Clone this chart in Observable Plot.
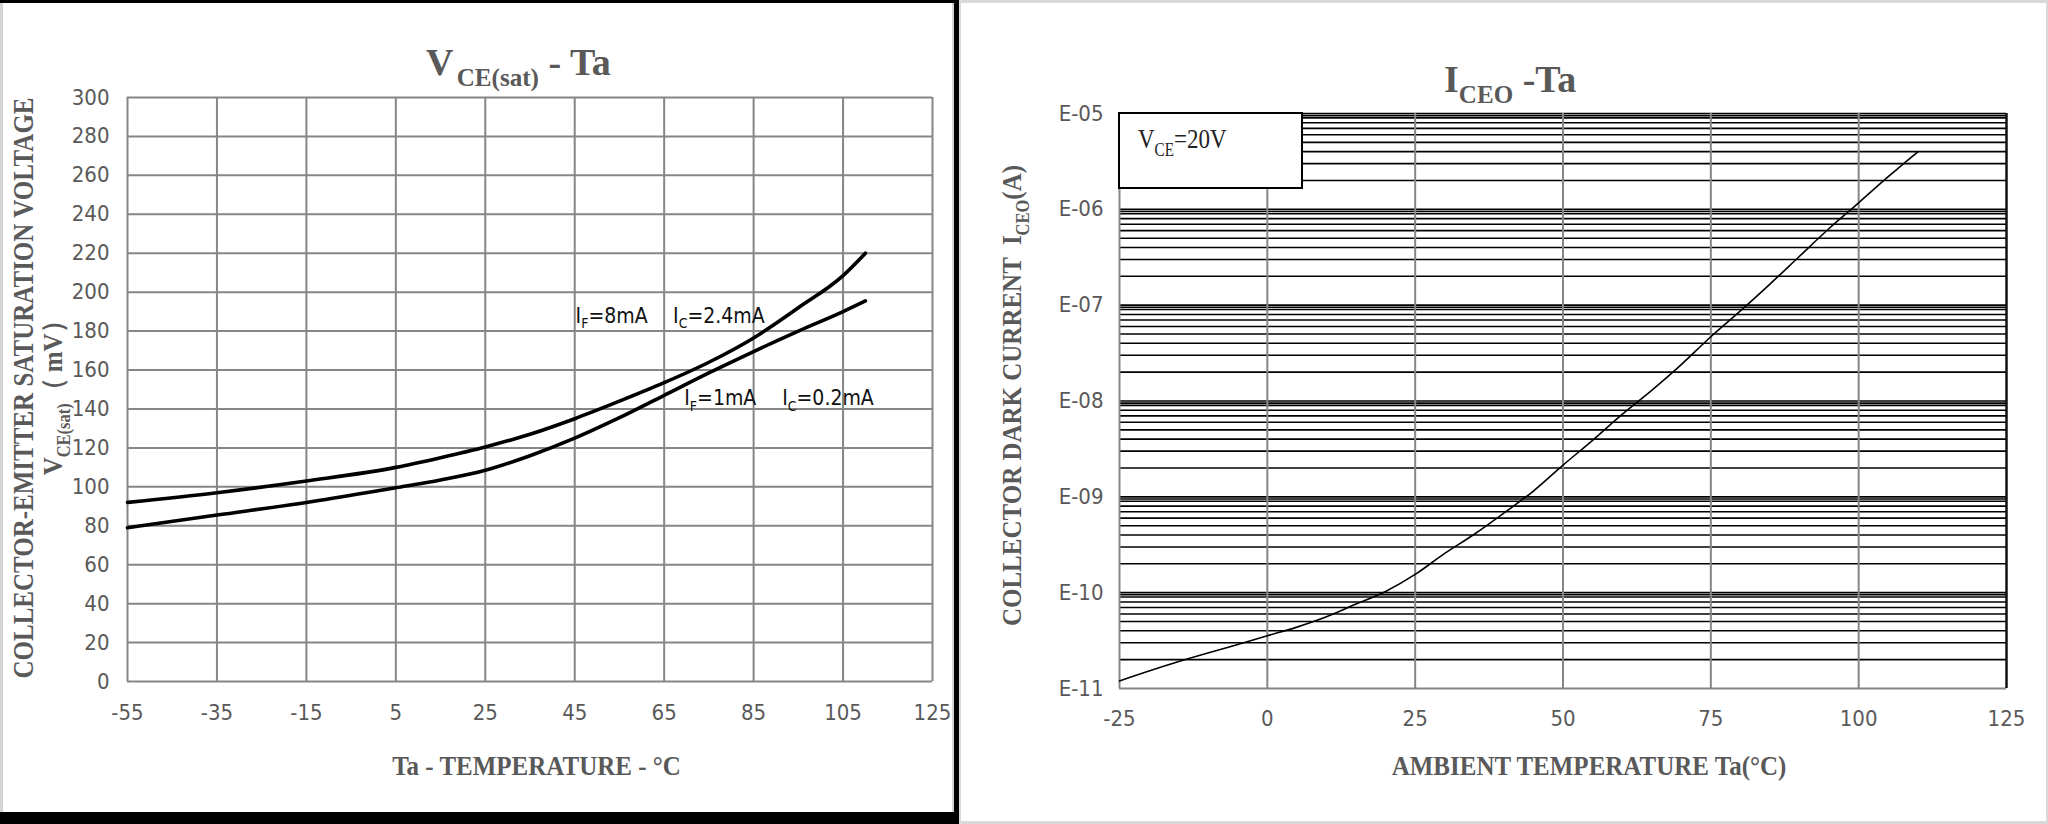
<!DOCTYPE html>
<html><head><meta charset="utf-8">
<script src="https://cdn.jsdelivr.net/npm/d3@7"></script>
<script src="https://cdn.jsdelivr.net/npm/@observablehq/plot@0.6"></script>
<style>
html,body{margin:0;padding:0;background:#fff;}
#page{position:relative;width:2048px;height:824px;overflow:hidden;background:#fff;}
#page > div, #page > svg{position:absolute;}
</style></head><body><div id="page"></div>
<script>
// ---------- data: VCE(sat) - Ta ----------
const vceTemps = [-55, -35, -15, 5, 15, 25, 35, 45, 55, 65, 75, 85, 95, 105, 110];
const vceHigh  = [92, 97, 103, 110, 115, 120.5, 127, 135, 144, 153.5, 164, 176.5, 192, 208.5, 220]; // IF=8mA IC=2.4mA
const vceLow   = [79, 85.5, 92, 99.5, 103.5, 108.5, 116, 125, 135.5, 147, 158.5, 169.5, 180, 190, 195.5]; // IF=1mA IC=0.2mA
const vceXTicks = [-55, -35, -15, 5, 25, 45, 65, 85, 105, 125];
const vceYTicks = [0, 20, 40, 60, 80, 100, 120, 140, 160, 180, 200, 220, 240, 260, 280, 300];
const curveLabelTexts = ["I_{F}=8mA", "I_{C}=2.4mA", "I_{F}=1mA", "I_{C}=0.2mA"];
const curveLabelT = [45.2, 67, 69.5, 91.4];
const curveLabelV = [184.4, 184.4, 141.8, 141.8];

// ---------- data: ICEO - Ta ----------
const iceoTemps = [-25, -15, -5, 0, 5, 10, 15, 20, 25, 30, 35, 40, 45, 50, 55, 60, 65, 70, 75, 80, 85, 90, 95, 100, 105, 110];
const iceoAmps  = [1.20e-11, 1.91e-11, 2.88e-11, 3.55e-11, 4.37e-11, 5.6e-11, 7.6e-11, 1.03e-10, 1.55e-10, 2.57e-10, 4.07e-10, 6.76e-10, 1.15e-9, 2.14e-9, 3.89e-9, 7.24e-9, 1.29e-8, 2.40e-8, 4.68e-8, 8.71e-8, 1.66e-7, 3.24e-7, 6.31e-7, 1.17e-6, 2.19e-6, 3.98e-6];
const iceoXTicks = [-25, 0, 25, 50, 75, 100, 125];
const iceoYTicks = [1e-11, 1e-10, 1e-9, 1e-8, 1e-7, 1e-6, 1e-5];
const iceoYTickLabels = ["E-11", "E-10", "E-09", "E-08", "E-07", "E-06", "E-05"];
const logMantissas = [1, 2, 3, 4, 5, 6, 7, 8, 9, 9.5];

// ---------- helpers ----------
function available(name) {
  const c = document.createElement("canvas").getContext("2d");
  const s = "mmmmmmmmmmlli1234567890WWW";
  c.font = "40px monospace"; const a = c.measureText(s).width;
  c.font = `40px "${name}", monospace`; const b = c.measureText(s).width;
  return Math.abs(a - b) > 0.5;
}
const narrowName = ["Liberation Sans Narrow", "DejaVu Sans Condensed", "Liberation Sans"].find(available) || "Liberation Sans";
const NARROW = `"${narrowName}", "Liberation Sans", Arial, sans-serif`;
const SERIF = `"Liberation Serif", "Times New Roman", serif`;
const GRAY_TEXT = "#595959";
const GRID = "#868686";
const plain = d => String(d);

function richText(sel, str, fs, subScale = 0.66, shift = 0.28) {
  sel.text(null);
  const parts = str.split(/(_\{[^}]*\})/).filter(s => s);
  let down = false;
  for (const p of parts) {
    if (p.startsWith("_{")) {
      sel.append("tspan").attr("font-size", fs * subScale).attr("dy", fs * shift).text(p.slice(2, -1));
      down = true;
    } else {
      const t = sel.append("tspan").text(p);
      if (down) { t.attr("dy", -fs * shift); down = false; }
    }
  }
}

const page = d3.select("#page");
function box(x, y, w, h, color) {
  page.append("div").style("left", x + "px").style("top", y + "px")
    .style("width", w + "px").style("height", h + "px").style("background", color);
}
// panel frames
box(0, 0, 954, 3, "#000");
box(0, 3, 3, 809, "#d4d4d4");
box(951.5, 3, 2.5, 809, "#d4d4d4");
box(954, 0, 4.5, 824, "#000");
box(0, 812, 958, 12, "#000");
box(958.5, 0, 1089.5, 3, "#d9d9d9");
box(958.5, 0, 2, 824, "#d9d9d9");
box(2045.5, 0, 2.5, 824, "#d9d9d9");
box(958.5, 821, 1089.5, 3, "#d9d9d9");

// ---------- left chart ----------
const highData = vceTemps.map((t, i) => ({T: t, V: vceHigh[i]}));
const lowData = vceTemps.map((t, i) => ({T: t, V: vceLow[i]}));
const labelData = curveLabelTexts.map((s, i) => ({T: curveLabelT[i], V: curveLabelV[i], s}));

const left = Plot.plot({
  width: 954, height: 812,
  marginLeft: 127, marginRight: 22, marginTop: 97, marginBottom: 131,
  x: {domain: [-55, 125]},
  y: {domain: [0, 300]},
  style: {background: "none", fontFamily: NARROW, fontSize: "22px", color: GRAY_TEXT, overflow: "visible"},
  marks: [
    Plot.ruleX(vceXTicks, {stroke: GRID, strokeWidth: 2}),
    Plot.ruleY(vceYTicks, {stroke: GRID, strokeWidth: 2}),
    Plot.axisX(vceXTicks, {tickSize: 0, tickPadding: 23, label: null, fontSize: 22, tickFormat: plain}),
    Plot.axisY(vceYTicks, {tickSize: 0, tickPadding: 18, label: null, fontSize: 22, tickFormat: plain}),
    Plot.line(highData, {x: "T", y: "V", stroke: "#000", strokeWidth: 3.6, curve: "monotone-x"}),
    Plot.line(lowData, {x: "T", y: "V", stroke: "#000", strokeWidth: 3.6, curve: "monotone-x"}),
    Plot.text(labelData, {x: "T", y: "V", text: "s", textAnchor: "start", lineAnchor: "bottom", fontSize: 21, fill: "#111"})
  ]
});
left.style.left = "0px"; left.style.top = "0px";
page.node().appendChild(left);

// ---------- right chart ----------
const iceoData = iceoTemps.map((t, i) => ({T: t, I: iceoAmps[i]}));
const blackLines = [];
for (let k = -11; k <= -6; k++) for (const m of logMantissas) {
  const v = m * Math.pow(10, k);
  if (!(m === 1 && k === -11)) blackLines.push(v);
}
blackLines.push(1e-5);

const right = Plot.plot({
  width: 1090, height: 824,
  marginLeft: 161, marginRight: 42, marginTop: 113, marginBottom: 136,
  x: {domain: [-25, 125]},
  y: {type: "log", domain: [1e-11, 1e-5]},
  style: {background: "none", fontFamily: NARROW, fontSize: "22px", color: GRAY_TEXT, overflow: "visible"},
  marks: [
    Plot.ruleY(blackLines, {stroke: "#000", strokeWidth: 1.6}),
    Plot.ruleY([1e-11], {stroke: GRID, strokeWidth: 2}),
    Plot.ruleX(iceoXTicks.filter(t => t < 125), {stroke: GRID, strokeWidth: 2}),
    Plot.ruleX([125], {stroke: "#111", strokeWidth: 2.5}),
    Plot.axisX(iceoXTicks, {tickSize: 0, tickPadding: 22, label: null, fontSize: 22, tickFormat: plain}),
    Plot.axisY(iceoYTicks, {tickSize: 0, tickPadding: 16, label: null, fontSize: 22,
      tickFormat: d => iceoYTickLabels[iceoYTicks.findIndex(v => Math.abs(v - d) / v < 1e-6)]}),
    Plot.line(iceoData, {x: "T", y: "I", stroke: "#000", strokeWidth: 1.6, curve: "monotone-x"})
  ]
});
right.style.left = "958px"; right.style.top = "0px";
page.node().appendChild(right);

// subscripts inside plot texts
for (const svg of [left, right]) {
  d3.select(svg).selectAll("text").each(function () {
    const s = this.textContent;
    if (s.includes("_{")) richText(d3.select(this), s, 21);
  });
}

// ---------- overlay: titles, axis labels, legend ----------
const ov = page.append("svg").attr("width", 2048).attr("height", 824)
  .style("left", "0px").style("top", "0px").style("pointer-events", "none");

function addText(x, y, str, {size, weight = "bold", anchor = "start", rotate = 0, sy = 1, fill = GRAY_TEXT, family = SERIF}) {
  const t = ov.append("text")
    .attr("transform", `translate(${x},${y}) rotate(${rotate}) scale(1,${sy})`)
    .attr("font-family", family).attr("font-size", size).attr("font-weight", weight)
    .attr("text-anchor", anchor).attr("fill", fill).style("white-space", "pre");
  richText(t, str, size);
  return t;
}

// left chart texts
addText(426, 75, "V_{ CE(sat)} - Ta", {size: 38}).select("tspan:nth-child(2)").attr("dx", -3);
addText(33, 388, "COLLECTOR-EMITTER SATURATION VOLTAGE", {size: 25, anchor: "middle", rotate: -90, sy: 1.15});
addText(62, 392, "V_{CE(sat)}（ mV）", {size: 25, anchor: "middle", rotate: -90, sy: 1.1});
addText(536.5, 775, "Ta - TEMPERATURE - °C", {size: 25, anchor: "middle", sy: 1.12});

// right chart texts
addText(1444, 92, "I_{CEO} -Ta", {size: 38});
addText(1021, 395.5, "COLLECTOR DARK CURRENT  I_{CEO}(A)", {size: 25, anchor: "middle", rotate: -90, sy: 1.12});
addText(1589, 775, "AMBIENT TEMPERATURE Ta(°C)", {size: 25, anchor: "middle", sy: 1.12});

// legend box
ov.append("rect").attr("x", 1119).attr("y", 113).attr("width", 183).attr("height", 75)
  .attr("fill", "#fff").attr("stroke", "#000").attr("stroke-width", 2);
addText(1138, 148, "V_{CE}=20V", {size: 23, weight: "normal", sy: 1.2, fill: "#222"});
</script>
</body></html>
